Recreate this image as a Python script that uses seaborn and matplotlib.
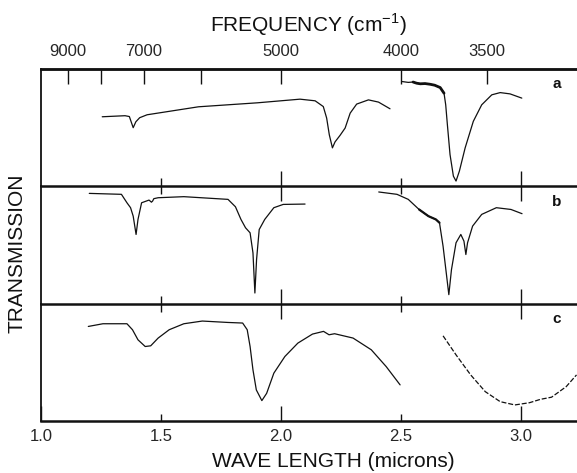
import matplotlib
matplotlib.use('Agg')
import seaborn as sns
import matplotlib.pyplot as plt

# spectrum a (wavelength in microns, transmission in arbitrary %)
a1_wl = [1.255, 1.350, 1.368, 1.384, 1.395, 1.411, 1.442, 1.656, 1.902, 2.079,
         2.142, 2.176, 2.190, 2.201, 2.214, 2.225, 2.246, 2.267, 2.288, 2.315,
         2.364, 2.406, 2.454]
a1_tr = [59.3, 60.2, 59.5, 50.0, 55.0, 58.5, 61.0, 67.8, 71.2, 74.3,
         72.9, 68.0, 58.2, 44.0, 32.8, 37.9, 43.5, 49.7, 62.4, 70.1,
         73.7, 71.8, 66.1]
a2_wl = [2.505, 2.530, 2.550, 2.565, 2.580, 2.600, 2.621, 2.640, 2.663, 2.679,
         2.686, 2.693, 2.704, 2.718, 2.729, 2.743, 2.767, 2.801, 2.836, 2.878,
         2.913, 2.954, 3.003]
a2_tr = [89.3, 88.6, 88.9, 87.9, 87.4, 87.6, 87.0, 86.2, 84.2, 79.4,
         69.5, 52.5, 27.1, 8.7, 4.5, 13.0, 32.8, 55.4, 69.5, 78.0,
         79.9, 78.8, 75.2]

# spectrum b
b1_wl = [1.201, 1.335, 1.358, 1.373, 1.384, 1.396, 1.404, 1.419, 1.450, 1.460,
         1.465, 1.470, 1.488, 1.595, 1.779, 1.810, 1.833, 1.852, 1.871, 1.883,
         1.891, 1.898, 1.909, 1.932, 1.970, 2.009, 2.100]
b1_tr = [94.0, 93.2, 86.0, 81.8, 74.6, 59.0, 71.8, 86.0, 88.3, 86.5,
         87.5, 89.5, 90.3, 91.2, 88.9, 82.6, 71.8, 64.7, 60.4, 43.3,
         9.1, 37.6, 63.2, 71.8, 81.8, 84.6, 84.9]
b2_wl = [2.407, 2.483, 2.530, 2.575, 2.614, 2.645, 2.660, 2.675, 2.690, 2.699,
         2.710, 2.729, 2.749, 2.762, 2.770, 2.777, 2.798, 2.836, 2.897, 2.958,
         3.004]
b2_tr = [95.2, 93.2, 88.9, 80.3, 74.6, 71.8, 69.0, 49.0, 23.3, 7.7,
         29.0, 51.9, 59.0, 53.3, 41.9, 51.9, 66.1, 76.1, 81.8, 80.3,
         76.7]

# spectrum c
c1_wl = [1.197, 1.258, 1.358, 1.381, 1.404, 1.434, 1.457, 1.488, 1.534, 1.595,
         1.672, 1.779, 1.840, 1.859, 1.871, 1.883, 1.897, 1.920, 1.940, 1.970,
         2.016, 2.070, 2.131, 2.177, 2.200, 2.223, 2.300, 2.376, 2.438, 2.496]
c1_tr = [80.6, 82.9, 82.9, 77.8, 69.2, 63.5, 64.1, 70.7, 77.8, 82.9,
         85.2, 84.0, 83.5, 77.8, 63.5, 43.6, 26.5, 17.4, 23.6, 40.8,
         55.0, 66.4, 74.1, 76.4, 73.5, 74.4, 70.7, 60.7, 46.4, 30.8]
c2_wl = [2.675, 2.729, 2.790, 2.851, 2.913, 2.974, 3.035, 3.081, 3.127, 3.188,
         3.231]
c2_tr = [72.6, 56.4, 39.3, 25.0, 16.5, 13.7, 15.6, 18.5, 20.3, 29.3,
         39.3]

wl_ticks = [1.0, 1.5, 2.0, 2.5, 3.0]
freq_major = [9000, 7000, 5000, 4000, 3500]
freq_minor = [8000, 6000]
panel_names = ['a', 'b', 'c']

sns.set_style('ticks')
plt.rcParams['font.family'] = ['Liberation Sans', 'DejaVu Sans']
plt.rcParams['mathtext.fontset'] = 'custom'
plt.rcParams['mathtext.rm'] = 'Liberation Sans'

fig, axes = plt.subplots(3, 1, figsize=(5.77, 4.73), dpi=100)
fig.subplots_adjust(left=0.0711, right=1.0, top=0.8541, bottom=0.1099, hspace=0)

ink = '#111111'
curves = [
    [(a1_wl, a1_tr, '-'), (a2_wl, a2_tr, '-')],
    [(b1_wl, b1_tr, '-'), (b2_wl, b2_tr, '-')],
    [(c1_wl, c1_tr, '-'), (c2_wl, c2_tr, (0, (4, 1.5)))],
]

for i, ax in enumerate(axes):
    ax.set_facecolor('none')
    for wl, tr, ls in curves[i]:
        sns.lineplot(x=wl, y=tr, ax=ax, color=ink, lw=0.9, linestyle=ls, sort=False)
    ax.set_xlim(1.0, 3.233)
    ax.set_ylim(0, 100)
    ax.set_yticks([])
    ax.set_ylabel('')
    ax.spines['right'].set_visible(False)
    ax.spines['left'].set_linewidth(1.3)
    ax.spines['bottom'].set_linewidth(1.8)
    if i > 0:
        ax.spines['top'].set_visible(False)
    else:
        ax.spines['top'].set_linewidth(1.8)
    for s in ax.spines.values():
        s.set_color(ink)
    ax.text(3.15, 87, panel_names[i], fontsize=11, fontweight='bold',
            ha='center', va='center', color=ink)

# the noisy, heavier stretches of the recorder trace
sns.lineplot(x=a2_wl[2:10], y=a2_tr[2:10], ax=axes[0], color=ink, lw=2.0, sort=False)
sns.lineplot(x=b2_wl[3:7], y=b2_tr[3:7], ax=axes[1], color=ink, lw=1.6, sort=False)

# panel boundaries: ticks crossing the line
for ax in axes[:2]:
    ax.set_xticks([2.0, 3.0])
    ax.set_xticks([1.5, 2.5], minor=True)
    ax.tick_params(axis='x', which='major', direction='inout', length=21,
                   width=1, color=ink, labelbottom=False)
    ax.tick_params(axis='x', which='minor', direction='inout', length=11,
                   width=1, color=ink)
    ax.tick_params(axis='x', which='both', top=False)

axc = axes[2]
axc.set_xticks([1.0, 2.0, 3.0], labels=['1.0', '2.0', '3.0'])
axc.set_xticks([1.5, 2.5], labels=['1.5', '2.5'], minor=True)
axc.tick_params(axis='x', which='major', direction='in', length=11, width=1,
                color=ink, labelsize=12, pad=6)
axc.tick_params(axis='x', which='minor', direction='in', length=5, width=1,
                color=ink, labelsize=12, pad=6)
axc.set_xlabel('')

# frequency axis on top
inv = lambda v: 1e4 / v
sec = axes[0].secondary_xaxis('top', functions=(inv, inv))
sec.set_xticks(freq_major, labels=[str(f) for f in freq_major])
sec.set_xticks(freq_minor, minor=True)
sec.tick_params(which='both', direction='in', length=11, width=1, color=ink,
                labelsize=12, pad=7)
sec.spines['top'].set_linewidth(1.8)

fig.text(0.534, 0.947, 'FREQUENCY (cm$^{-1}$)', fontsize=15, ha='center',
         va='center', color=ink)
fig.text(0.577, 0.024, 'WAVE LENGTH (microns)', fontsize=15, ha='center',
         va='center', color=ink)
fig.text(0.030, 0.465, 'TRANSMISSION', fontsize=15, rotation=90, ha='center',
         va='center', color=ink)

fig.savefig('out.png', dpi=100)
